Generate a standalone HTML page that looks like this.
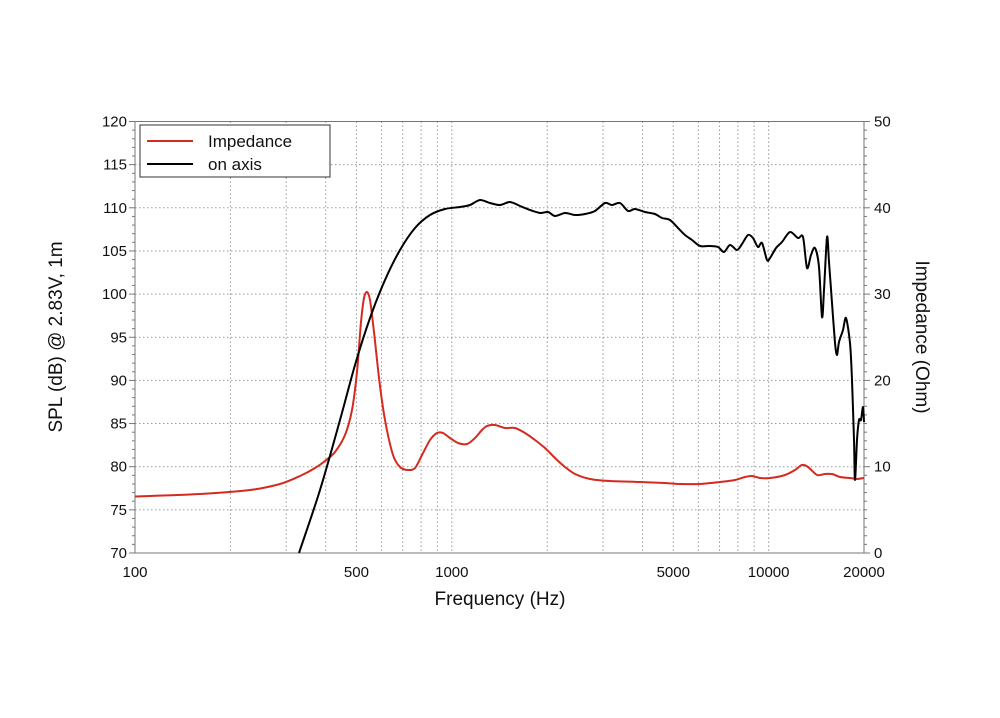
<!DOCTYPE html>
<html><head><meta charset="utf-8"><style>
html,body{margin:0;padding:0;background:#fff;}
svg{display:block;font-family:"Liberation Sans",Arial,sans-serif;}
</style></head><body>
<svg id="s" width="1000" height="718" viewBox="0 0 1000 718" xmlns="http://www.w3.org/2000/svg">
<g id="grid" stroke="#999" stroke-width="1" stroke-dasharray="1.5,2.5"></g>
<g id="ticks" stroke="#777" stroke-width="1"></g>
<rect x="135" y="121.5" width="729" height="431.5" fill="none" stroke="#777" stroke-width="1"/>
<g font-size="15" fill="#111" text-anchor="end" id="ly"></g>
<g font-size="15" fill="#111" text-anchor="start" id="ry"></g>
<g font-size="15" fill="#111" text-anchor="middle" id="bx"></g>
<path id="red" fill="none" stroke="#d42a20" stroke-width="2" stroke-linejoin="round"/>
<path id="blk" fill="none" stroke="#000" stroke-width="2" stroke-linejoin="round"/>
<rect x="140" y="125" width="190" height="52" fill="#fff" stroke="#333" stroke-width="1"/>
<line x1="147" y1="141" x2="193" y2="141" stroke="#d42a20" stroke-width="2"/>
<line x1="147" y1="164" x2="193" y2="164" stroke="#000" stroke-width="2"/>
<text x="208" y="147" font-size="17" fill="#111">Impedance</text>
<text x="208" y="170" font-size="17" fill="#111">on axis</text>
<text x="500" y="605" font-size="19" fill="#111" text-anchor="middle">Frequency (Hz)</text>
<text transform="translate(62,337) rotate(-90)" font-size="19" fill="#111" text-anchor="middle">SPL (dB) @ 2.83V, 1m</text>
<text transform="translate(916,337) rotate(90)" font-size="19" fill="#111" text-anchor="middle">Impedance (Ohm)</text>
</svg>
<script>
var NS="http://www.w3.org/2000/svg";
function el(p,t,a,txt){var e=document.createElementNS(NS,t);for(var k in a)e.setAttribute(k,a[k]);if(txt!==undefined)e.textContent=txt;document.getElementById(p).appendChild(e);}
var L=135,R=864,T=121.5,B=553;
function fx(f){return L+(Math.log10(f)-2)/Math.log10(200)*(R-L);}
function yd(d){return B-(d-70)/50*(B-T);}
[200,300,400,500,600,700,800,900,1000,2000,3000,4000,5000,6000,7000,8000,9000,10000].forEach(function(f){var x=fx(f);el("grid","line",{x1:x,y1:T,x2:x,y2:B});});
for(var d=75;d<120;d+=5){var y=yd(d);el("grid","line",{x1:L,y1:y,x2:R,y2:y});}
for(var d=70;d<=120;d++){var y=yd(d);var len=(d%5==0)?6:3;el("ticks","line",{x1:L-len,y1:y,x2:L,y2:y});}
for(var o=0;o<=50;o++){var y=B-o/50*(B-T);var len=(o%10==0)?6:3;el("ticks","line",{x1:R,y1:y,x2:R+len,y2:y});}
for(var d=70;d<=120;d+=5)el("ly","text",{x:127,y:yd(d)+5},String(d));
for(var o=0;o<=50;o+=10)el("ry","text",{x:874,y:B-o/50*(B-T)+5},String(o));
[100,500,1000,5000,10000,20000].forEach(function(f){el("bx","text",{x:fx(f),y:577},String(f));});
function smooth(s){var a=s.trim().split(/\s+/).map(function(p){return p.split(",").map(Number);});
var d="M"+a[0][0]+","+a[0][1];
for(var i=0;i<a.length-1;i++){var p0=a[Math.max(i-1,0)],p1=a[i],p2=a[i+1],p3=a[Math.min(i+2,a.length-1)];var k=1/6*0.9;
d+=" C"+(p1[0]+(p2[0]-p0[0])*k).toFixed(1)+","+(p1[1]+(p2[1]-p0[1])*k).toFixed(1)+" "+(p2[0]-(p3[0]-p1[0])*k).toFixed(1)+","+(p2[1]-(p3[1]-p1[1])*k).toFixed(1)+" "+p2[0]+","+p2[1];}
return d;}
document.getElementById("red").setAttribute("d",smooth("135,496.5 200,494 250,490 280,484 300,476 315,468 325,461 335,452 345,435 352,410 357,372 361,322 364,298 367,292 370,300 374,332 379,378 385,420 393,455 400,467 408,470 415,468 422,455 430,440 437,433 443,433 450,438 458,443 467,444 475,438 482,430 487,426 495,425 505,428 515,428 525,433 535,440 545,448 555,458 565,467 575,474 590,479 610,481 640,482 665,483 680,484 700,484 720,482 735,480 745,477 752,476 760,478 770,478 785,475 795,470 802,465 808,467 817,475 825,474 832,474 840,477 850,478 857,479 864,478"));
document.getElementById("blk").setAttribute("d",smooth("299,553 320,490 340,420 355,365 370,318 385,280 400,250 415,228 430,215 445,209 460,207 470,205 480,200 490,203 500,205 510,202 520,206 530,210 540,213 548,212 555,216 565,213 575,215 585,214 595,211 605,203 612,205 620,203 628,211 635,209 645,212 655,214 662,218 670,220 678,228 685,235 692,240 700,246 710,246 718,247 724,252 730,245 737,250 742,244 748,235 753,238 758,247 762,243 767,260 770,258 776,248 782,242 790,232 798,238 803,237 807,268 811,255 815,248 819,267 822,317 824,290 827,237 829,262 832,303 835,343 837,355 839,342 843,330 846,318 850,343 852,380 854,440 855,480 857,440 859,420 861,420 863,407 864,422"));
</script>
</body></html>
